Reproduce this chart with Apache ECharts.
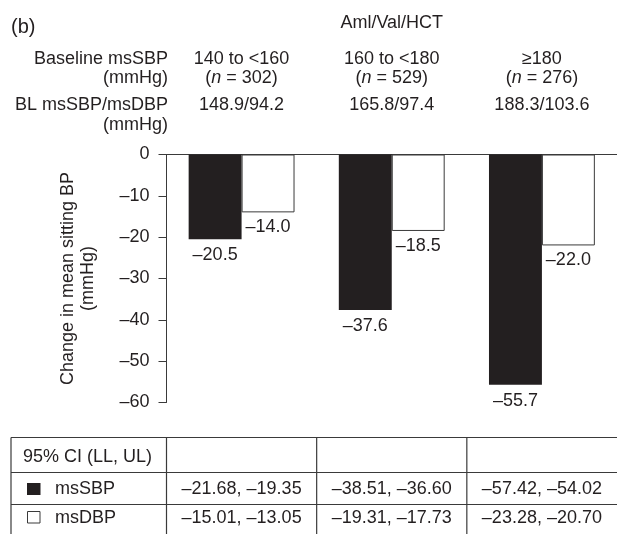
<!DOCTYPE html>
<html>
<head>
<meta charset="utf-8">
<script src="https://cdn.jsdelivr.net/npm/echarts@6/dist/echarts.min.js"></script>
<style>
html,body{margin:0;padding:0;background:#fff;}
#chart{width:617px;height:534px;}
</style>
</head>
<body>
<div id="chart"></div>
<script>
// ---- data ----
const groups = ['140 to <160', '160 to <180', '\u2265180'];
const nValues = [302, 529, 276];
const blValues = ['148.9/94.2', '165.8/97.4', '188.3/103.6'];
const sbpChange = [-20.5, -37.6, -55.7];
const dbpChange = [-14.0, -18.5, -22.0];
const sbpCI = [[-21.68, -19.35], [-38.51, -36.60], [-57.42, -54.02]];
const dbpCI = [[-15.01, -13.05], [-19.31, -17.73], [-23.28, -20.70]];
const yMin = -60, yMax = 0, yStep = 10;

const FONT = '"Liberation Sans", Arial, Helvetica, sans-serif';
const INK = '#231f20';
const LINE = '#3a3a3a';
const dash = '\u2013';
const fmt = (v, d) => (v < 0 ? dash : '') + Math.abs(v).toFixed(d);

const chart = echarts.init(document.getElementById('chart'), null, {renderer: 'canvas'});
const baseText = {fontFamily: FONT, fontSize: 18, color: INK};

chart.setOption({
  animation: false,
  backgroundColor: '#fff',
  textStyle: {fontFamily: FONT},
  grid: {left: 166.5, top: 154.5, right: 0, bottom: 131.5, containLabel: false},
  xAxis: {
    type: 'category',
    data: groups,
    position: 'top',
    axisLine: {lineStyle: {color: LINE, width: 1}},
    axisTick: {inside: true, length: 7, lineStyle: {color: LINE, width: 1}},
    axisLabel: {show: false},
    splitLine: {show: false}
  },
  yAxis: {
    type: 'value',
    min: yMin, max: yMax, interval: yStep,
    name: 'Change in mean sitting BP\n(mmHg)',
    nameLocation: 'middle',
    nameGap: 68,
    nameTextStyle: Object.assign({}, baseText, {lineHeight: 20}),
    axisLine: {show: true, lineStyle: {color: LINE, width: 1}},
    axisTick: {show: true, length: 8, lineStyle: {color: LINE, width: 1}},
    axisLabel: Object.assign({}, baseText, {margin: 17, formatter: v => fmt(v, 0)}),
    splitLine: {show: false}
  },
  series: [
    {
      name: 'msSBP', type: 'bar', data: sbpChange,
      barGap: '0%', barCategoryGap: '29.5%',
      itemStyle: {color: INK},
      label: Object.assign({show: true, position: 'bottom', distance: 7, formatter: p => fmt(p.value, 1)}, baseText)
    },
    {
      name: 'msDBP', type: 'bar', data: dbpChange,
      barGap: '0%', barCategoryGap: '29.5%',
      itemStyle: {color: '#fff', borderColor: LINE, borderWidth: 1},
      label: Object.assign({show: true, position: 'bottom', distance: 6, formatter: p => fmt(p.value, 1)}, baseText)
    }
  ]
});

// ---- header & table positioned from the axis scale ----
const centers = groups.map(g => chart.convertToPixel({xAxisIndex: 0}, g));
const band = centers[1] - centers[0];
const bounds = [centers[0] - band / 2].concat(centers.map(c => c + band / 2));
const W = 617, H = 534;

function txt(x, y, text, align, extra) {
  return {
    type: 'text', x: x, y: y, silent: true,
    style: Object.assign({text: text, fill: INK, font: '18px ' + FONT, fontSize: 18, fontFamily: FONT,
      align: align || 'center', verticalAlign: 'middle'}, extra || {})
  };
}
const italicRich = {i: {fontStyle: 'italic', fontSize: 18, fontFamily: FONT, fill: INK}, r: {fontSize: 18, fontFamily: FONT, fill: INK}};

const g = [];
g.push(txt(11, 27, '(b)', 'left', {fontSize: 20, font: '20px ' + FONT}));
g.push(txt((bounds[0] + bounds[3]) / 2, 23, 'Aml/Val/HCT'));
g.push(txt(168, 59, 'Baseline msSBP', 'right'));
g.push(txt(168, 78, '(mmHg)', 'right'));
g.push(txt(168, 105.5, 'BL msSBP/msDBP', 'right'));
g.push(txt(168, 125, '(mmHg)', 'right'));
groups.forEach((name, i) => {
  g.push(txt(centers[i], 59, name));
  g.push(txt(centers[i], 78, '{r|(}{i|n}{r| = ' + nValues[i] + ')}', 'center', {rich: italicRich}));
  g.push(txt(centers[i], 105.5, blValues[i]));
});

// table
const tTop = 437.5, r1 = 472.5, r2 = 504.5, tLeft = 11;
const lineStyle = {stroke: LINE, lineWidth: 1.2};
[tTop, r1, r2].forEach(y => g.push({type: 'line', silent: true, shape: {x1: tLeft, y1: y, x2: W, y2: y}, style: lineStyle}));
[tLeft].concat(bounds.slice(0, 3)).forEach(x => g.push({type: 'line', silent: true, shape: {x1: x, y1: tTop, x2: x, y2: H}, style: lineStyle}));
g.push(txt(23, (tTop + r1) / 2 + 2, '95% CI (LL, UL)', 'left'));
g.push({type: 'rect', silent: true, shape: {x: 27, y: 483, width: 13.5, height: 12}, style: {fill: INK}});
g.push(txt(55, (r1 + r2) / 2 + 1, 'msSBP', 'left'));
g.push({type: 'rect', silent: true, shape: {x: 27.5, y: 511.5, width: 12.5, height: 11.5}, style: {fill: '#fff', stroke: LINE, lineWidth: 1}});
g.push(txt(55, 518, 'msDBP', 'left'));
groups.forEach((name, i) => {
  g.push(txt(centers[i], (r1 + r2) / 2 + 1, fmt(sbpCI[i][0], 2) + ', ' + fmt(sbpCI[i][1], 2)));
  g.push(txt(centers[i], 518, fmt(dbpCI[i][0], 2) + ', ' + fmt(dbpCI[i][1], 2)));
});

chart.setOption({graphic: {elements: g}});
</script>
</body>
</html>
